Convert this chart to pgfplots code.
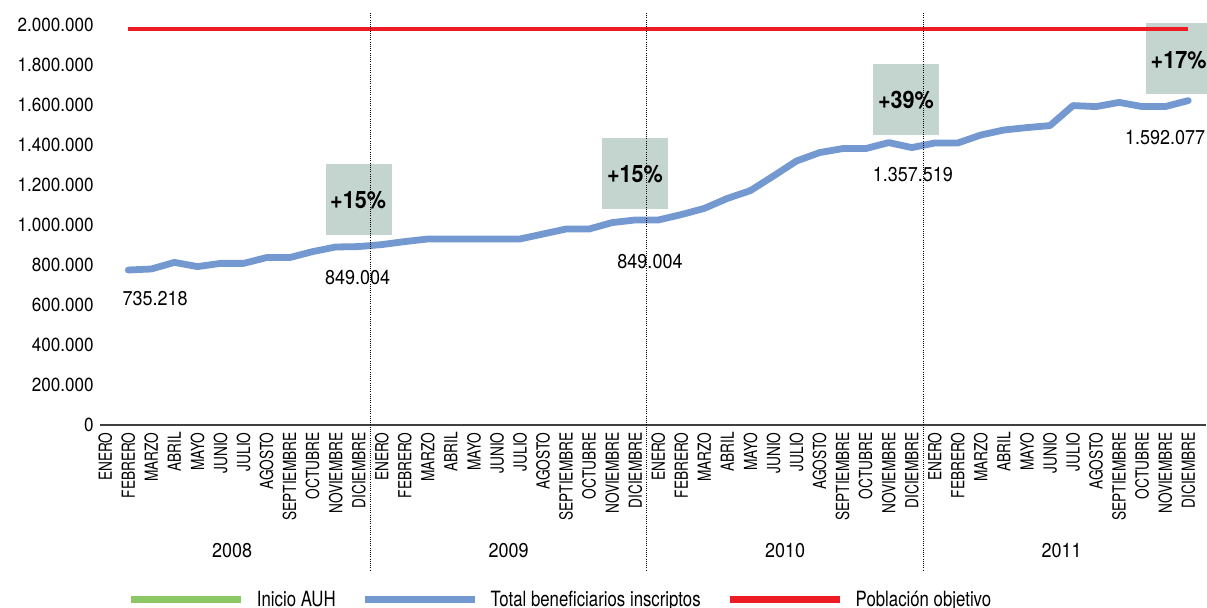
\documentclass[border=0pt]{standalone}
\usepackage{pgfplots}
\pgfplotsset{compat=1.18}
\usepackage{fontspec}
\setmainfont{TeX Gyre Heros}[FakeStretch=0.9]
\newfontfamily\cnfont{TeX Gyre Heros}[FakeStretch=0.76]
\newfontfamily\lgfont{TeX Gyre Heros}[FakeStretch=0.8]
\definecolor{auhblue}{HTML}{7399D0}
\definecolor{auhred}{HTML}{ED1C24}
\definecolor{auhgreen}{HTML}{8CC665}
\definecolor{boxgray}{HTML}{C3D5CE}
\begin{document}
\begin{tikzpicture}[x=0.5pt,y=0.5pt]
\useasboundingbox (0,0) rectangle (1207,608);
\begin{axis}[
  at={(50pt,91.5pt)}, anchor=south west,
  scale only axis, width=553pt, height=200pt,
  xmin=-0.23, xmax=47.77, ymin=0, ymax=2000000,
  clip=false,
  axis lines*=left,
  y axis line style={draw=none},
  x axis line style={draw=black!75, line width=0.6pt},
  major tick length=0pt,
  scaled y ticks=false,
  ytick={0,200000,400000,600000,800000,1000000,1200000,1400000,1600000,1800000,2000000},
  yticklabels={0,200.000,400.000,600.000,800.000,1.000.000,1.200.000,1.400.000,1.600.000,1.800.000,2.000.000},
  yticklabel style={font=\fontsize{9.5}{11}\selectfont, inner sep=0pt, xshift=-3pt},
  xtick={0,...,47},
  xticklabels={ENERO,FEBRERO,MARZO,ABRIL,MAYO,JUNIO,JULIO,AGOSTO,SEPTIEMBRE,OCTUBRE,NOVIEMBRE,DICIEMBRE,
               ENERO,FEBRERO,MARZO,ABRIL,MAYO,JUNIO,JULIO,AGOSTO,SEPTIEMBRE,OCTUBRE,NOVIEMBRE,DICIEMBRE,
               ENERO,FEBRERO,MARZO,ABRIL,MAYO,JUNIO,JULIO,AGOSTO,SEPTIEMBRE,OCTUBRE,NOVIEMBRE,DICIEMBRE,
               ENERO,FEBRERO,MARZO,ABRIL,MAYO,JUNIO,JULIO,AGOSTO,SEPTIEMBRE,OCTUBRE,NOVIEMBRE,DICIEMBRE},
  xticklabel style={yshift=-3.5pt, rotate=90, anchor=east, inner sep=0pt, font=\cnfont\fontsize{9}{10}\selectfont},
  legend columns=3,
  legend style={at={(0.0253,-0.4375)}, anchor=west, draw=none, fill=none, inner sep=0pt, outer sep=0pt,
    font=\lgfont\fontsize{10.5}{12}\selectfont, nodes={inner sep=0pt},
    /tikz/every odd column/.append style={column sep=6pt},
    /tikz/every even column/.append style={column sep=13pt}},
  legend image code/.code={\draw[#1, line width=3.5pt, line cap=butt] (0pt,0pt) -- (55pt,0pt);},
]
% annotation boxes
\fill[boxgray] (axis cs:9.58,950000) rectangle (axis cs:12.44,1305000);
\fill[boxgray] (axis cs:21.56,1080000) rectangle (axis cs:24.43,1435000);
\fill[boxgray] (axis cs:33.32,1450000) rectangle (axis cs:36.18,1805000);
\fill[boxgray] (axis cs:45.17,1655000) rectangle (axis cs:47.95,2010000);

\addlegendimage{auhgreen}
\addlegendentry{Inicio AUH}

\addplot[auhblue, line width=3.4pt, line cap=round, line join=round] coordinates {
(1,775000) (2,780000) (3,813000) (4,792000) (5,808000) (6,808000) (7,837000) (8,837000) (9,867000) (10,890000) (11,892000)
(12,902000) (13,917000) (14,930000) (15,930000) (16,930000) (17,930000) (18,930000) (19,955000) (20,980000) (21,980000) (22,1012000) (23,1025000)
(24,1025000) (25,1052000) (26,1083000) (27,1133000) (28,1172000) (29,1245000) (30,1320000) (31,1362000) (32,1382000) (33,1382000) (34,1412000) (35,1387000)
(36,1410000) (37,1410000) (38,1450000) (39,1475000) (40,1487000) (41,1497000) (42,1597000) (43,1592000) (44,1613000) (45,1592000) (46,1592000) (47,1622000)
};
\addlegendentry{Total beneficiarios inscriptos}

\addplot[auhred, line width=2pt] coordinates {
(1,1982000) (2,1982000) (3,1982000) (4,1982000) (5,1982000) (6,1982000) (7,1982000) (8,1982000) (9,1982000) (10,1982000) (11,1982000)
(12,1982000) (13,1982000) (14,1982000) (15,1982000) (16,1982000) (17,1982000) (18,1982000) (19,1982000) (20,1982000) (21,1982000) (22,1982000) (23,1982000)
(24,1982000) (25,1982000) (26,1982000) (27,1982000) (28,1982000) (29,1982000) (30,1982000) (31,1982000) (32,1982000) (33,1982000) (34,1982000) (35,1982000)
(36,1982000) (37,1982000) (38,1982000) (39,1982000) (40,1982000) (41,1982000) (42,1982000) (43,1982000) (44,1982000) (45,1982000) (46,1982000) (47,1982000)
};
\addlegendentry{Población objetivo}

% percentage labels
\node[font=\bfseries\fontsize{12}{14}\selectfont] at (axis cs:10.97,1125000) {+15\%};
\node[font=\bfseries\fontsize{12}{14}\selectfont] at (axis cs:22.99,1255000) {+15\%};
\node[font=\bfseries\fontsize{12}{14}\selectfont] at (axis cs:34.75,1625000) {+39\%};
\node[font=\bfseries\fontsize{12}{14}\selectfont] at (axis cs:46.58,1825000) {+17\%};

% value labels
\node[font=\fontsize{10}{12}\selectfont] at (axis cs:2.16,630000) {735.218};
\node[font=\fontsize{10}{12}\selectfont] at (axis cs:10.95,735000) {849.004};
\node[font=\fontsize{10}{12}\selectfont] at (axis cs:23.64,815000) {849.004};
\node[font=\fontsize{10}{12}\selectfont] at (axis cs:35.05,1252500) {1.357.519};
\node[font=\fontsize{10}{12}\selectfont] at (axis cs:46.0,1435000) {1.592.077};

% year labels
\node[font=\fontsize{10}{12}\selectfont] at (axis cs:5.5,-630000) {2008};
\node[font=\fontsize{10}{12}\selectfont] at (axis cs:17.5,-630000) {2009};
\node[font=\fontsize{10}{12}\selectfont] at (axis cs:29.5,-630000) {2010};
\node[font=\fontsize{10}{12}\selectfont] at (axis cs:41.5,-630000) {2011};

% year separators
\draw[black, line width=0.5pt, dash pattern=on 0.5pt off 0.6pt] (axis cs:11.5,2060000) -- (axis cs:11.5,-725000);
\draw[black, line width=0.5pt, dash pattern=on 0.5pt off 0.6pt] (axis cs:23.5,2060000) -- (axis cs:23.5,-725000);
\draw[black, line width=0.5pt, dash pattern=on 0.5pt off 0.6pt] (axis cs:35.5,2060000) -- (axis cs:35.5,-725000);
\end{axis}
\end{tikzpicture}
\end{document}
